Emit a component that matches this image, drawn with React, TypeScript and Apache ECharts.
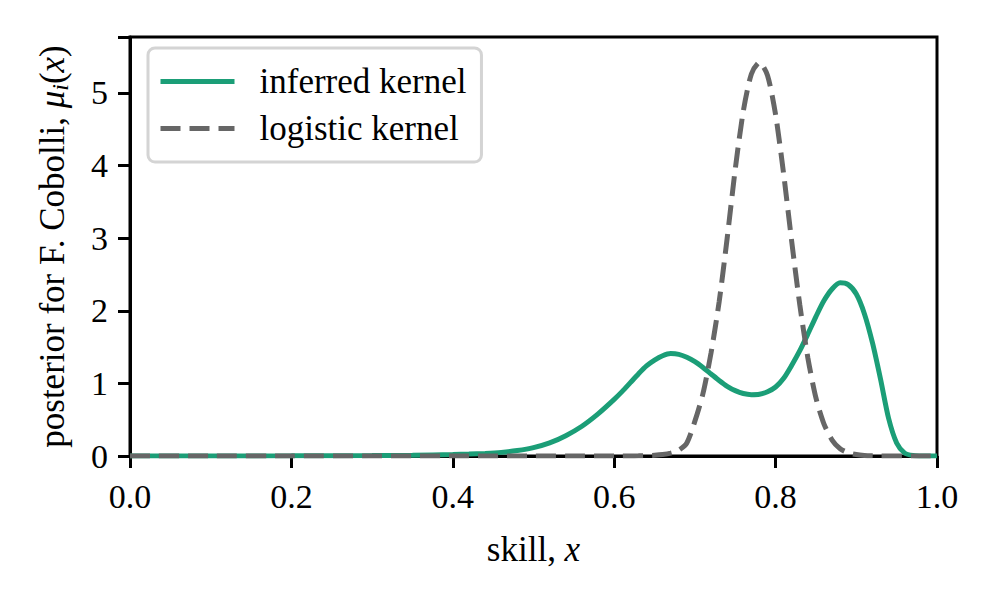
import React, { useEffect, useRef } from "react";
import * as echarts from "echarts";

const xs = [
  0, 0.1, 0.2, 0.3, 0.35,
  0.4, 0.42, 0.44, 0.46, 0.48, 0.5, 0.52, 0.54, 0.56, 0.58,
  0.6, 0.61, 0.62, 0.63, 0.64, 0.65, 0.66, 0.67, 0.68, 0.69,
  0.7, 0.71, 0.72, 0.73, 0.74, 0.75, 0.76, 0.77, 0.78, 0.79,
  0.8, 0.81, 0.82, 0.83, 0.84, 0.85, 0.86, 0.87, 0.88, 0.89,
  0.9, 0.91, 0.92, 0.93, 0.94, 0.95, 0.96, 0.97, 0.98, 0.99, 1.0,
];

const inferredKernel = [
  0, 0.001, 0.002, 0.006, 0.01,
  0.02, 0.027, 0.036, 0.05, 0.075, 0.115, 0.18, 0.28, 0.41, 0.58,
  0.78, 0.89, 1.01, 1.13, 1.24, 1.32, 1.38, 1.41, 1.4, 1.36,
  1.3, 1.22, 1.13, 1.04, 0.96, 0.9, 0.86, 0.845, 0.85, 0.885,
  0.95, 1.07, 1.25, 1.45, 1.68, 1.92, 2.14, 2.3, 2.385, 2.36,
  2.23, 1.96, 1.56, 1.06, 0.52, 0.18, 0.04, 0.006, 0.001, 0, 0,
];

const logisticKernel = [
  0, 0, 0, 0, 0,
  0, 0, 0, 0, 0, 0, 0, 0, 0, 0,
  0, 0, 0.001, 0.002, 0.005, 0.01, 0.02, 0.04, 0.08, 0.18,
  0.48, 0.86, 1.42, 2.12, 3.0, 3.95, 4.75, 5.26, 5.42, 5.24,
  4.7, 3.88, 2.95, 2.08, 1.35, 0.8, 0.44, 0.22, 0.1, 0.045,
  0.02, 0.008, 0.003, 0.001, 0, 0, 0, 0, 0, 0, 0,
];

const xTicks = [0, 0.2, 0.4, 0.6, 0.8, 1.0];
const seriesNames = ["inferred kernel", "logistic kernel"];

const FONT = "'Liberation Serif', 'Times New Roman', serif";
const GREEN = "#1b9e77";
const GRAY = "#666666";
const DASH = [20, 9];

export default function App() {
  const ref = useRef<HTMLDivElement>(null);
  useEffect(() => {
    if (!ref.current) return;
    const chart = echarts.init(ref.current, undefined, { renderer: "svg" });
    const pair = (ys: number[]) => xs.map((x, i) => [x, ys[i]]);
    chart.setOption({
      animation: false,
      backgroundColor: "#ffffff",
      textStyle: { fontFamily: FONT },
      grid: {
        left: 130,
        right: 60,
        top: 37,
        bottom: 142,
        show: true,
        borderColor: "#000",
        borderWidth: 3,
        backgroundColor: "transparent",
      },
      legend: {
        show: true,
        orient: "vertical",
        left: 148,
        top: 48,
        padding: [16, 15, 16, 10],
        itemGap: 12,
        itemWidth: 74,
        itemHeight: 20,
        backgroundColor: "rgba(255,255,255,0.8)",
        borderColor: "#d4d4d4",
        borderWidth: 3,
        borderRadius: 7,
        textStyle: {
          fontFamily: FONT,
          fontSize: 35,
          color: "#000",
          padding: [0, 0, 0, 20],
        },
        data: [
          {
            name: seriesNames[0],
            itemStyle: { opacity: 0 },
            lineStyle: { width: 5, color: GREEN, type: "solid" },
          },
          {
            name: seriesNames[1],
            itemStyle: { opacity: 0 },
            lineStyle: { width: 5, color: GRAY, type: DASH },
          },
        ],
      },
      xAxis: {
        type: "value",
        min: 0,
        max: 1,
        interval: 0.2,
        name: "{r|skill, }{i|x}",
        nameLocation: "middle",
        nameGap: 76,
        nameTextStyle: {
          rich: {
            r: { fontFamily: FONT, fontSize: 35, color: "#000" },
            i: { fontFamily: FONT, fontSize: 35, color: "#000", fontStyle: "italic" },
          },
        },
        axisLine: { show: true, lineStyle: { color: "#000", width: 3 } },
        axisTick: { show: true, inside: false, length: 12, lineStyle: { color: "#000", width: 3 } },
        axisLabel: {
          fontFamily: FONT,
          fontSize: 34,
          color: "#000",
          margin: 23,
          formatter: (v: number) => (xTicks.some((t) => Math.abs(t - v) < 1e-9) ? v.toFixed(1) : ""),
        },
        splitLine: { show: false },
      },
      yAxis: {
        type: "value",
        min: 0,
        max: 5.77,
        interval: 1,
        name: "{r|posterior for F. Cobolli, }{i|μ}{s|i}{r|(}{i|x}{r|)}",
        nameLocation: "middle",
        nameGap: 58,
        nameRotate: 90,
        nameTextStyle: {
          rich: {
            r: { fontFamily: FONT, fontSize: 35, color: "#000", lineHeight: 40, verticalAlign: "middle" },
            i: { fontFamily: FONT, fontSize: 35, color: "#000", fontStyle: "italic", lineHeight: 40, verticalAlign: "middle" },
            s: { fontFamily: FONT, fontSize: 24, color: "#000", fontStyle: "italic", lineHeight: 24, verticalAlign: "bottom" },
          },
        },
        axisLine: { show: true, lineStyle: { color: "#000", width: 3 } },
        axisTick: { show: true, inside: false, length: 12, lineStyle: { color: "#000", width: 3 } },
        axisLabel: {
          fontFamily: FONT,
          fontSize: 34,
          color: "#000",
          margin: 22,
          formatter: (v: number) => (Number.isInteger(v) ? String(v) : ""),
        },
        splitLine: { show: false },
      },
      series: [
        {
          name: seriesNames[0],
          type: "line",
          data: pair(inferredKernel),
          showSymbol: false,
          symbol: "none",
          smooth: 0.25,
          lineStyle: { color: GREEN, width: 5 },
          itemStyle: { color: GREEN },
          z: 3,
        },
        {
          name: seriesNames[1],
          type: "line",
          data: pair(logisticKernel),
          showSymbol: false,
          symbol: "none",
          smooth: 0.25,
          lineStyle: { color: GRAY, width: 5, type: DASH },
          itemStyle: { color: GRAY },
          z: 4,
        },
      ],
    });
    return () => chart.dispose();
  }, []);
  return <div ref={ref} style={{ width: 997, height: 598, position: "absolute", left: 0, top: 0 }} />;
}
